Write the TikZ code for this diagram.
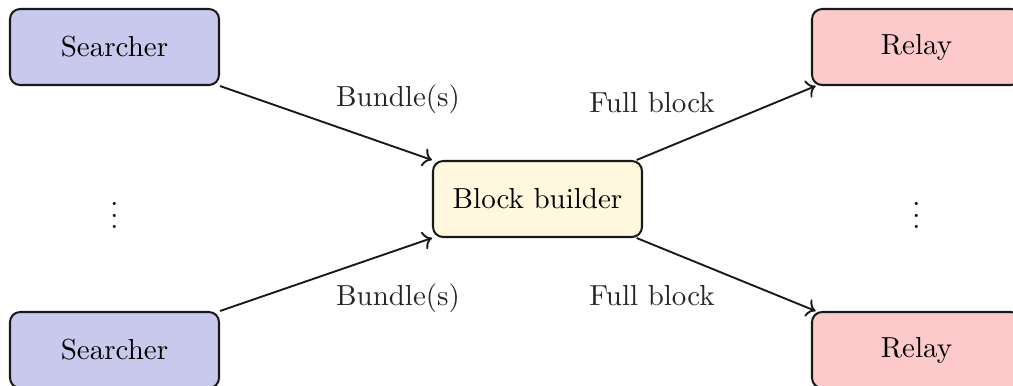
\documentclass[tikz,border=0pt]{standalone}
\usetikzlibrary{arrows.meta}
\definecolor{searcherfill}{RGB}{201,201,238}
\definecolor{builderfill}{RGB}{255,248,222}
\definecolor{relayfill}{RGB}{252,202,202}
\tikzset{
  box/.style={draw=black!90, line width=0.7pt, rounded corners=3.5pt,
    minimum width=209*0.345pt, minimum height=76*0.345pt, inner sep=0pt},
  flow/.style={->, line width=0.65pt, black!90},
  lbl/.style={inner sep=0pt, text=black!85}
}
\begin{document}
\begin{tikzpicture}[x=0.345pt, y=-0.345pt]
  \useasboundingbox (0,0) rectangle (1013,385);

  % senders on the left
  \node[box, fill=searcherfill] (s1) at (114.5,47) {Searcher};
  \node[box, fill=searcherfill] (s2) at (114.5,350) {Searcher};
  \node (sdots) at (114.5,207) {$\vdots$};

  % central builder
  \node[box, fill=builderfill] (bb) at (537.5,199) {Block builder};

  % receivers on the right
  \node[box, fill=relayfill] (r1) at (916.5,47) {Relay};
  \node[box, fill=relayfill] (r2) at (916.5,350) {Relay};
  \node (rdots) at (916.5,207) {$\vdots$};

  % message flows
  \draw[flow] (s1.south east) -- (bb.north west);
  \draw[flow] (s2.north east) -- (bb.south west);
  \draw[flow] ([xshift=-2.2pt]bb.north east) -- ([xshift=1.6pt]r1.south west);
  \draw[flow] ([xshift=-2.2pt]bb.south east) -- ([xshift=1.6pt]r2.north west);

  % flow labels
  \node[lbl] (l1) at (398,99) {Bundle(s)};
  \node[lbl] (l2) at (398,298) {Bundle(s)};
  \node[lbl] (l3) at (652,103) {Full block};
  \node[lbl] (l4) at (652,296) {Full block};
\end{tikzpicture}
\end{document}
